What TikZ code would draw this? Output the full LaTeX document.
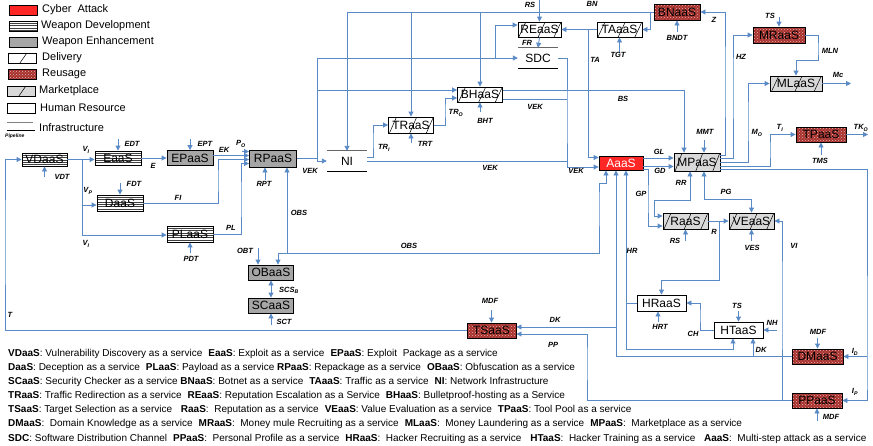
\documentclass[tikz,border=0pt]{standalone}
\usepackage{fontspec}
\setmainfont{Liberation Sans}
\usetikzlibrary{arrows.meta,patterns,calc}
\definecolor{lb}{HTML}{5A8AC6}
\definecolor{atk}{HTML}{FF2626}
\definecolor{enh}{HTML}{A6A6A6}
\definecolor{mkt}{HTML}{D9D9D9}
\definecolor{reu}{HTML}{A8302C}
\newcommand{\sepx}{\hspace{0.6em}}
\tikzset{
 box/.style={draw=black, line width=0.9pt, minimum width=46pt, minimum height=15pt, inner sep=0pt, font=\fontsize{12}{12}\selectfont},
 attack/.style={box, fill=atk, text=white},
 wdev/.style={box, fill=white, path picture={\foreach \k in {1,...,8}{\draw[black!75, line width=0.3pt] ([yshift=-\k*2.3pt]path picture bounding box.north west) -- ([yshift=-\k*2.3pt]path picture bounding box.north east);}}},
 enhbox/.style={box, fill=enh},
 slashpic/.style={path picture={\foreach \f in {#1}{\draw[line width=0.5pt] ($(path picture bounding box.south west)!\f!(path picture bounding box.south east)+(-3.5pt,0pt)$) -- ($(path picture bounding box.north west)!\f!(path picture bounding box.north east)+(3.5pt,0pt)$);}}},
 deliv/.style={box, fill=white, slashpic={0.1,0.55,0.92}},
 mktbox/.style={box, fill=mkt, slashpic={0.1,0.55,0.92}},
 reubox/.style={box, preaction={fill=reu}, pattern=crosshatch dots, pattern color=reu!35!white},
 human/.style={box, fill=white},
 infra/.style={minimum width=40pt, minimum height=20pt, inner sep=0pt, font=\fontsize{12}{12}\selectfont},
 ltxt/.style={anchor=west, inner sep=0pt, font=\fontsize{11}{11}\selectfont},
 elab/.style={inner sep=0pt, font=\fontsize{7.5}{7.5}\selectfont\bfseries\itshape},
 conn/.style={draw=lb, line width=0.9pt, -{Triangle[width=5pt,length=5pt]}},
 conn2/.style={draw=lb, line width=0.9pt, {Triangle[width=5pt,length=5pt]}-{Triangle[width=5pt,length=5pt]}},
 plain/.style={draw=lb, line width=0.9pt},
 leg/.style={anchor=west, inner sep=0pt, font=\fontsize{10}{10}\selectfont},
}
\begin{document}
\begin{tikzpicture}[x=1pt,y=-1pt]
\useasboundingbox (0,0) rectangle (873,445);

% ---------- legend (top-left)
\node[attack, minimum width=28pt, minimum height=10pt] (lgA) at (23,10) {};
\node[ltxt] (lgAt) at (42,10) {Cyber\ \ Attack};
\node[wdev, minimum width=28pt, minimum height=10pt] (lgW) at (23,26) {};
\node[ltxt] (lgWt) at (41,26) {Weapon Development};
\node[enhbox, minimum width=28pt, minimum height=10pt] (lgE) at (23,42) {};
\node[ltxt] (lgEt) at (42,42) {Weapon Enhancement};
\node[box, fill=white, minimum width=28pt, minimum height=10pt, slashpic={0.55}] (lgD) at (22,58) {};
\node[ltxt] (lgDt) at (42,58) {Delivery};
\node[reubox, minimum width=28pt, minimum height=10pt] (lgR) at (22,74) {};
\node[ltxt] (lgRt) at (42,74) {Reusage};
\node[box, fill=mkt, minimum width=28pt, minimum height=10pt, slashpic={0.55}] (lgM) at (21,91) {};
\node[ltxt] (lgMt) at (39,91) {Marketplace};
\node[human, minimum width=28pt, minimum height=10pt] (lgH) at (21,108) {};
\node[ltxt] (lgHt) at (40,108) {Human Resource};
\draw[gray, line width=1pt] (7,122) -- (33,122);
\draw[black, line width=0.8pt] (7,130) -- (35,130);
\node[ltxt] (lgIt) at (39,128) {Infrastructure};
\node[anchor=west, inner sep=0pt, font=\fontsize{5}{5}\selectfont\bfseries\itshape] (lgP) at (5,136) {Pipeline};

% ---------- main nodes
\node[wdev, minimum width=45pt, minimum height=13pt] (VDaaS) at (44.5,159.5) {VDaaS};
\node[wdev, minimum height=14pt] (EaaS) at (118,158) {EaaS};
\node[enhbox] (EPaaS) at (190,158) {EPaaS};
\node[enhbox, minimum width=47pt, minimum height=17pt] (RPaaS) at (273,158.5) {RPaaS};
\node[wdev, minimum height=16pt] (DaaS) at (120,203) {DaaS};
\node[wdev, minimum height=16pt] (PLaaS) at (190,234) {PLaaS};
\node[infra] (NI) at (347,161) {NI};
\node[enhbox, minimum width=45pt] (OBaaS) at (271,272.5) {OBaaS};
\node[enhbox, minimum width=45pt] (SCaaS) at (271,305.5) {SCaaS};
\node[deliv, minimum width=45pt, minimum height=16pt] (TRaaS) at (411,125) {TRaaS};
\node[deliv, minimum width=45pt] (BHaaS) at (480,94.5) {BHaaS};
\node[deliv, minimum width=43pt] (REaaS) at (539.5,29.5) {REaaS};
\node[infra] (SDC) at (538,58) {SDC};
\node[deliv, minimum width=45pt] (TAaaS) at (619.5,29.5) {TAaaS};
\node[reubox, minimum height=16pt] (BNaaS) at (677,12) {BNaaS};
\node[reubox, minimum width=52pt, minimum height=16pt] (MRaaS) at (779,35) {MRaaS};
\node[mktbox, minimum width=52pt] (MLaaS) at (796,83.5) {MLaaS};
\node[reubox, minimum width=50pt] (TPaaS) at (821,134.5) {TPaaS};
\node[attack, minimum width=44pt, minimum height=14pt] (AaaS) at (621,163) {AaaS};
\node[mktbox, minimum height=18pt] (MPaaS) at (697,162) {MPaaS};
\node[mktbox, minimum width=45pt, minimum height=16pt] (RaaS) at (685.5,221) {RaaS};
\node[mktbox, minimum width=45pt, minimum height=16pt] (VEaaS) at (751.5,221) {VEaaS};
\node[human, minimum width=49pt, minimum height=16pt] (HRaaS) at (661.5,303) {HRaaS};
\node[human, minimum width=49pt, minimum height=16pt] (HTaaS) at (738.5,330) {HTaaS};
\node[reubox, minimum width=51pt] (DMaaS) at (817.5,356.5) {DMaaS};
\node[reubox, minimum width=50pt] (PPaaS) at (817,400.5) {PPaaS};
\node[reubox, minimum width=49pt] (TSaaS) at (491.5,330.5) {TSaaS};

% infrastructure lines
\draw[gray!80!black, line width=1pt] (NI.north west) -- (NI.north east);
\draw[black, line width=0.9pt] (NI.south west) -- (NI.south east);
\draw[gray!80!black, line width=1pt] (SDC.north west) -- (SDC.north east);
\draw[black, line width=0.9pt] (SDC.south west) -- (SDC.south east);

% ---------- connectors: weapon chain
\draw[conn] (TSaaS.west) -| (5,240) |- (VDaaS.west);
\draw[conn] (VDaaS.east) -- (EaaS.west |- VDaaS.east);
\draw[conn] (VDaaS.east -| 82,0) |- (DaaS.west |- 0,205);
\draw[conn] (VDaaS.east -| 82,0) |- (PLaaS.west |- 0,235);
\draw[conn] (EaaS.north |- 0,139) -- (EaaS.north);
\draw[conn] (EPaaS.north |- 0,139) -- (EPaaS.north);
\draw[conn] (DaaS.north |- 0,183) -- (DaaS.north);
\draw[conn] (PLaaS.south |- 0,253) -- (PLaaS.south);
\draw[conn] (VDaaS.south |- 0,177) -- (VDaaS.south);
\draw[conn] (265,180) -- (RPaaS.south -| 265,0);
\draw[conn] (EaaS.east) -- (EPaaS.west);
\draw[conn] (EPaaS.east |- 0,155.5) -- (RPaaS.west |- 0,155.5);
\coordinate (Po) at (242,151.5);
\draw[conn] (Po) -- (RPaaS.west |- 0,151.5);
\draw[conn] (DaaS.east) -| (218,180) |- (RPaaS.west |- 0,159.5);
\draw[conn] (PLaaS.east) -| (241,200) |- (RPaaS.west |- 0,163.5);

% RPaaS -> NI and VEK distribution
\draw[conn] (RPaaS.east) -- (317,158.5) |- (NI.west);
\draw[conn] (317,158.5) |- (BHaaS.west |- 0,90);
\draw[conn] (317,90) |- (SDC.west);
\draw[conn] (495,58) |- (REaaS.west |- 0,25);
\draw[conn] (NI.east |- 0,157) -| (373,140) |- (TRaaS.west);
\draw[conn] (TRaaS.east) -| (445,110) |- (BHaaS.west |- 0,98);
\draw[conn] (TRaaS.south |- 0,143) -- (TRaaS.south);
\draw[conn] (BHaaS.south |- 0,112) -- (BHaaS.south);

% BN
\draw[conn] (BNaaS.west) -| (NI.north);
\draw[conn] (TRaaS.north |- BNaaS.west) -- (TRaaS.north);
\draw[conn] (BHaaS.north |- BNaaS.west) -- (BHaaS.north);
\draw[conn] (BNaaS.west -| 650,0) |- (TAaaS.east);
\draw[conn] (BNaaS.south |- 0,32) -- (BNaaS.south);

% REaaS / TAaaS / SDC
\draw[conn] (REaaS.north |- 0,0) -- (REaaS.north);
\draw[conn] (TAaaS.west) -- (REaaS.east);
\draw[conn] (TAaaS.west -| 588,0) |- (AaaS.west |- 0,157.5);
\draw[conn] (TAaaS.south |- 0,52) -- (TAaaS.south);
\draw[conn] (REaaS.south) -- (SDC.north);
\draw[conn] (SDC.east) -| (567,120) |- (AaaS.west |- 0,167);
\draw[plain] (BHaaS.east |- 0,99) -- (567,99);
\draw[plain] (NI.east |- 0,161) -- (567,161);
\draw[conn] (BHaaS.east |- 0,90) -| (MPaaS.north -| 684,0);

% MPaaS outputs
\draw[conn] (MPaaS.east |- 0,155) -| (725,80) |- (BNaaS.east);
\draw[conn] (MPaaS.east |- 0,158) -| (733,80) |- (MRaaS.west);
\draw[conn] (MPaaS.east |- 0,162) -| (748,120) |- (MLaaS.west);
\draw[conn] (MPaaS.east |- 0,166) -| (770,150) |- (TPaaS.west);
\draw[conn] (MPaaS.east |- 0,169.5) -| (867,380) |- (PPaaS.east);
\draw[conn] (DMaaS.east -| 867,0) -- (DMaaS.east);
\draw[conn] (704,140) -- (MPaaS.north -| 704,0);

% AaaS -> MPaaS, RaaS
\draw[conn] (AaaS.east |- 0,158) -- (MPaaS.west |- 0,158);
\draw[conn] (AaaS.east |- 0,166.5) -- (MPaaS.west |- 0,166.5);
\draw[conn] (AaaS.east |- 0,169) -| (648,200) |- (RaaS.west |- 0,226);
\draw[conn2] (MPaaS.south -| 690,0) |- (654,200) |- (RaaS.west |- 0,216);
\draw[conn2] (MPaaS.south -| 704,0) |- (VEaaS.north |- 0,199) -- (VEaaS.north);
\draw[conn] (RaaS.east) -- (VEaaS.west);
\draw[conn] (RaaS.east -| 719,0) |- (HRaaS.north |- 0,280) -- (HRaaS.north);
\draw[conn] (RaaS.south |- 0,241) -- (RaaS.south);
\draw[conn] (VEaaS.south |- 0,241) -- (VEaaS.south);
\draw[conn] (PPaaS.west) -| (782,300) |- (VEaaS.east);

% TSaaS inputs, DK, HR
\draw[conn] (PPaaS.west) -| (587,360) |- (TSaaS.east |- 0,334);
\draw[conn] (DMaaS.west) -| (AaaS.south -| 616,0);
\draw[conn] (616,327) -- (TSaaS.east |- 0,327);
\draw[conn] (DMaaS.west -| 753,0) -- (HTaaS.south -| 753,0);
\draw[conn] (HRaaS.west) -| (AaaS.south -| 626,0);
\draw[conn] (HRaaS.west -| 626,0) |- (733,349) -- (HTaaS.south -| 733,0);

% OBS
\draw[conn] (287,253) -- (RPaaS.south -| 287,0);
\draw[conn] (287,253) -| (OBaaS.north -| 278,0);
\draw[conn] (287,253) -| (599,200) |- (606,183) -- (AaaS.south -| 606,0);
\draw[conn] (258,248) -- (OBaaS.north -| 258,0);
\draw[conn2] (OBaaS.south) -- (SCaaS.north);
\draw[conn] (SCaaS.south |- 0,325) -- (SCaaS.south);

% small inputs
\draw[conn] (TSaaS.north |- 0,310) -- (TSaaS.north);
\draw[conn] (DMaaS.north |- 0,338) -- (DMaaS.north);
\draw[conn] (PPaaS.south |- 0,421) -- (PPaaS.south);
\draw[conn] (HTaaS.north |- 0,311) -- (HTaaS.north);
\draw[conn] (777,330) -- (HTaaS.east);
\draw[conn] (HTaaS.west) -| (700,315) |- (HRaaS.east);
\draw[conn] (658,322) -- (HRaaS.south -| 658,0);
\draw[conn] (TPaaS.south |- 0,155) -- (TPaaS.south);
\draw[conn] (TPaaS.east) -- (868,134.5);
\draw[conn] (MRaaS.north |- 0,17) -- (MRaaS.north);
\draw[conn] (MRaaS.east) -| (818,50) |- (MLaaS.north |- 0,60) -- (MLaaS.north);
\draw[conn] (MLaaS.east) -- (851,83.5);

% ---------- edge labels
\node[elab] (tT) at (10,315) {T};
\node[elab] (tVI1) at (86,150) {V\textsubscript{I}};
\node[elab] (tVP) at (88,191) {V\textsubscript{P}};
\node[elab] (tVI2) at (86,244) {V\textsubscript{I}};
\node[elab] (tVDT) at (62,177) {VDT};
\node[elab] (tEDT) at (132,144) {EDT};
\node[elab] (tEPT) at (205,144) {EPT};
\node[elab] (tFDT) at (134,184) {FDT};
\node[elab] (tPDT) at (191,259) {PDT};
\node[elab] (tRPT) at (264,184) {RPT};
\node[elab] (tE) at (153,166) {E};
\node[elab] (tEK) at (224,150) {EK};
\node[elab] (tPo) at (241,144) {P\textsubscript{O}};
\node[elab] (tFI) at (178,198) {FI};
\node[elab] (tPL) at (231,228) {PL};
\node[elab] (tVEK1) at (310,171) {VEK};
\node[elab] (tVEK2) at (490,168) {VEK};
\node[elab] (tVEK3) at (535,107) {VEK};
\node[elab] (tVEK4) at (576,171) {VEK};
\node[elab] (tTRI) at (384,148) {TR\textsubscript{I}};
\node[elab] (tTRO) at (456,113) {TR\textsubscript{O}};
\node[elab] (tTRT) at (425,144) {TRT};
\node[elab] (tBHT) at (485,121) {BHT};
\node[elab] (tBN) at (592,4) {BN};
\node[elab] (tRS1) at (530,5) {RS};
\node[elab] (tFR) at (527,43) {FR};
\node[elab] (tTGT) at (618,55) {TGT};
\node[elab] (tBNDT) at (677,38) {BNDT};
\node[elab] (tZ) at (714,20) {Z};
\node[elab] (tTA) at (595,60) {TA};
\node[elab] (tBS) at (623,99) {BS};
\node[elab] (tHZ) at (741,57) {HZ};
\node[elab] (tTS1) at (770,16) {TS};
\node[elab] (tMLN) at (830,51) {MLN};
\node[elab] (tMc) at (838,75) {Mc};
\node[elab] (tMO) at (757,133) {M\textsubscript{O}};
\node[elab] (tTI) at (780,128) {T\textsubscript{I}};
\node[elab] (tTKO) at (861,128) {TK\textsubscript{O}};
\node[elab] (tTMS) at (820,161) {TMS};
\node[elab] (tMMT) at (705,132) {MMT};
\node[elab] (tGL) at (659,152) {GL};
\node[elab] (tGD) at (660,171) {GD};
\node[elab] (tGP) at (641,194) {GP};
\node[elab] (tRR) at (681,183) {RR};
\node[elab] (tPG) at (726,192) {PG};
\node[elab] (tR) at (714,232) {R};
\node[elab] (tRS2) at (675,241) {RS};
\node[elab] (tVES) at (752,248) {VES};
\node[elab] (tVI) at (794,246) {VI};
\node[elab] (tHR) at (632,251) {HR};
\node[elab] (tHRT) at (660,327) {HRT};
\node[elab] (tCH) at (693,334) {CH};
\node[elab] (tTS2) at (737,306) {TS};
\node[elab] (tNH) at (772,323) {NH};
\node[elab] (tDK1) at (555,320) {DK};
\node[elab] (tPP) at (553,345) {PP};
\node[elab] (tDK2) at (761,350) {DK};
\node[elab] (tMDF1) at (490,301) {MDF};
\node[elab] (tMDF2) at (818,332) {MDF};
\node[elab] (tMDF3) at (831,417) {MDF};
\node[elab] (tID) at (855,352) {I\textsubscript{D}};
\node[elab] (tIP) at (855,392) {I\textsubscript{P}};
\node[elab] (tOBS1) at (299,213) {OBS};
\node[elab] (tOBS2) at (409,246) {OBS};
\node[elab] (tOBT) at (245,251) {OBT};
\node[elab] (tSCS) at (289,290) {SCS\textsubscript{B}};
\node[elab] (tSCT) at (284,322) {SCT};

% ---------- bottom legend
\node[leg] (b1) at (8,354) {\textbf{VDaaS}: Vulnerability Discovery as a service\sepx\textbf{EaaS}: Exploit as a service\sepx\textbf{EPaaS}: Exploit\ \ Package as a service};
\node[leg] (b2) at (8,368) {\textbf{DaaS}: Deception as a service\sepx\textbf{PLaaS}: Payload as a service \textbf{RPaaS}: Repackage as a service\sepx\textbf{OBaaS}: Obfuscation as a service};
\node[leg] (b3) at (8,382) {\textbf{SCaaS}: Security Checker as a service \textbf{BNaaS}: Botnet as a service\sepx\textbf{TAaaS}: Traffic as a service\sepx\textbf{NI}: Network Infrastructure};
\node[leg] (b4) at (8,396) {\textbf{TRaaS}: Traffic Redirection as a service\sepx\textbf{REaaS}: Reputation Escalation as a Service\sepx\textbf{BHaaS}: Bulletproof-hosting as a Service};
\node[leg] (b5) at (8,410) {\textbf{TSaaS}: Target Selection as a service\sepx\ \textbf{RaaS}:\ \ Reputation as a service\sepx\textbf{VEaaS}: Value Evaluation as a service\sepx\textbf{TPaaS}: Tool Pool as a service};
\node[leg] (b6) at (8,424) {\textbf{DMaaS}:\ \ Domain Knowledge as a service\sepx\textbf{MRaaS}:\ \ Money mule Recruiting as a service\sepx\textbf{MLaaS}:\ \ Money Laundering as a service\sepx\textbf{MPaaS}:\ \ Marketplace as a service};
\node[leg] (b7) at (8,439) {\textbf{SDC}: Software Distribution Channel\sepx\textbf{PPaaS}:\ \ Personal Profile as a service\sepx\textbf{HRaaS}:\ \ Hacker Recruiting as a service\sepx\ \textbf{HTaaS}:\ \ Hacker Training as a service\sepx\ \textbf{AaaS}:\ \ Multi-step attack as a service};
\end{tikzpicture}
\end{document}
